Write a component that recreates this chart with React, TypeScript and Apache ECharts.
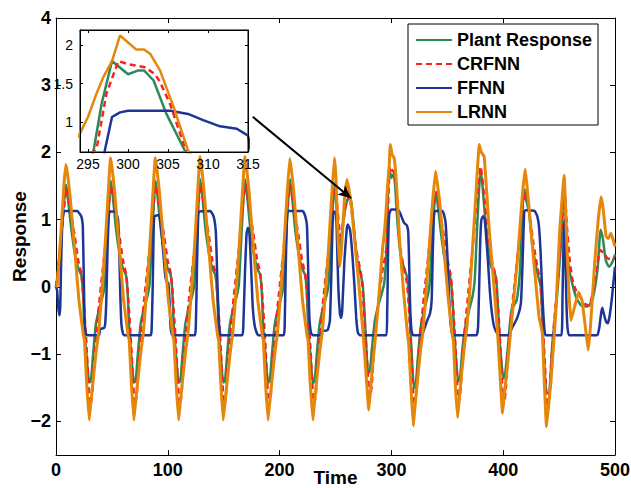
import React, { useEffect, useRef } from "react";
import * as echarts from "echarts";

// ---------- data (time, response) ----------
const plantData: number[][] = [
  [0,0],[2,0.25],[4,0.65],[6,1.05],[8,1.4],[9.1,1.52],
  [10.8,1.29],[13.8,0.85],[16.8,0.5],[19.8,0.28],[22.5,0.18],[24,-0.05],[25.4,-0.6],[27.5,-1.05],[29.7,-1.42],[31.2,-1.4],[33.2,-1.0],[35.7,-0.55],[38.7,-0.32],[41.7,-0.14],[43.7,0.05],[46.7,1.0],[49.1,1.58],
  [50.8,1.35],[53.8,0.85],[56.8,0.5],[59.8,0.28],[62.5,0.18],[64,-0.05],[65.4,-0.6],[67.5,-1.05],[69.7,-1.42],[71.2,-1.4],[73.2,-1.0],[75.7,-0.55],[78.7,-0.32],[81.7,-0.14],[83.7,0.05],[86.7,1.0],[89.1,1.58],
  [90.8,1.35],[93.8,0.85],[96.8,0.5],[99.8,0.28],[102.5,0.18],[104,-0.05],[105.4,-0.6],[107.5,-1.05],[109.7,-1.42],[111.2,-1.4],[113.2,-1.0],[115.7,-0.55],[118.7,-0.32],[121.7,-0.14],[123.7,0.05],[126.7,1.0],[129.1,1.6],
  [130.8,1.37],[133.8,0.85],[136.8,0.5],[139.8,0.28],[142.5,0.18],[144,-0.05],[145.4,-0.6],[147.5,-1.05],[149.6,-1.42],[151.1,-1.4],[153.1,-1.0],[155.6,-0.55],[158.6,-0.32],[161.6,-0.14],[163.6,0.05],[166.6,1.0],[169.2,1.6],
  [170.9,1.37],[173.9,0.85],[176.9,0.5],[179.9,0.28],[182.5,0.18],[184,-0.05],[185.4,-0.6],[187.5,-1.05],[189.7,-1.42],[191.2,-1.4],[193.2,-1.0],[195.7,-0.55],[198.7,-0.32],[201.7,-0.14],[203.7,0.05],[206.7,1.0],[209.3,1.6],
  [211,1.37],[214,0.85],[217,0.5],[220,0.28],[222.7,0.18],[224.2,-0.05],[225.6,-0.6],[227.7,-1.05],[229.8,-1.43],[231.3,-1.4],[233.3,-1.0],[235.8,-0.55],[238.8,-0.32],[241.8,-0.14],[243.8,0.05],[246.8,1.0],[249.3,1.55],
  [250.8,1.2],[252.5,0.75],[254,0.6],[256,0.85],[258.5,1.15],[261,1.3],[263.5,1.32],[265.5,1.05],[267.5,0.7],[269.5,0.4],[271.4,0.27],[274.4,0.02],[276.8,-0.64],[279.2,-1.28],[280.7,-1.26],[282.7,-0.9],[285.2,-0.5],[288.2,-0.28],[291,-0.12],[293.5,0.05],[294.8,0.3],[295.7,0.64],[296.7,1.24],[298,1.79],[300,1.62],[301.3,1.67],[302,1.67],[303.2,1.54],[304.8,1.11],[307.1,0.64],[309.5,0.38],[312,0.25],[314,0.15],[315.5,-0.1],[317,-0.62],[318.5,-1.1],[320.2,-1.5],[321.7,-1.47],[323.7,-1.05],[326.2,-0.6],[329.2,-0.35],[332.2,-0.15],[334.2,0.05],[337.2,0.95],[339.9,1.42],
  [341.5,1.22],[344,0.85],[347.3,0.45],[351.8,0.2],[353.5,0.05],[354.8,-0.24],[356.3,-0.7],[358,-1.1],[359.8,-1.4],[361.3,-1.37],[363.7,-0.89],[366.5,-0.55],[369.6,-0.34],[372.6,-0.14],[374.5,0.1],[377,1.0],[379.8,1.74],
  [381.5,1.5],[384,1.0],[387.5,0.4],[390.5,0.25],[393.5,0.15],[395,-0.2],[396.4,-0.69],[398.3,-1.1],[400.3,-1.36],[401.5,-1.33],[404.5,-0.84],[407.5,-0.34],[412,-0.2],[415,0.24],[417,1.08],[418.8,1.45],
  [420.5,1.3],[423.2,1.1],[426.2,0.6],[430.7,0.2],[433.6,0.0],[435.7,-0.74],[438.7,-1.58],[441,-1.58],[444,-0.84],[447.6,-0.25],[451.5,0.6],[454.5,1.49],
  [457.4,0.45],[460.4,0.15],[464.9,-0.14],[469.3,-0.27],[475.3,-0.29],[479.8,-0.19],[484.3,0.25],[487.2,0.85],[489.3,0.7],[491.7,0.4],[494.6,0.3],[497.6,0.37],[500,0.48],
];

const crfnnData: number[][] = [
  [0,0],[1.5,0.2],[3,0.5],[5,0.8],[7,1.15],[9.8,1.47],
  [12.3,1.2],[16.8,0.75],[19.8,0.4],[22.8,0.18],[24.4,-0.14],[26.8,-0.74],[29.7,-1.6],[31,-1.75],[32.5,-1.55],[34.2,-1.05],[36.7,-0.6],[39.2,-0.15],[43.7,0.55],[47.7,1.29],[49.8,1.5],
  [52.3,1.2],[56.8,0.75],[59.8,0.4],[62.8,0.18],[64.4,-0.14],[66.8,-0.74],[69.6,-1.6],[70.9,-1.75],[72.4,-1.55],[74.1,-1.05],[76.6,-0.6],[79.1,-0.15],[83.6,0.55],[87.6,1.29],[89.8,1.5],
  [92.3,1.2],[96.8,0.75],[99.8,0.4],[102.8,0.18],[104.4,-0.14],[106.8,-0.74],[109.7,-1.6],[111,-1.75],[112.5,-1.55],[114.2,-1.05],[116.7,-0.6],[119.2,-0.15],[123.7,0.55],[127.7,1.29],[129.8,1.52],
  [132.3,1.22],[136.8,0.75],[139.8,0.4],[142.8,0.18],[144.4,-0.14],[146.8,-0.74],[149.5,-1.6],[150.8,-1.75],[152.3,-1.55],[154,-1.05],[156.5,-0.6],[159,-0.15],[163.5,0.55],[167.5,1.29],[169.9,1.52],
  [172.4,1.22],[176.9,0.75],[179.9,0.4],[182.9,0.18],[184.5,-0.14],[186.9,-0.74],[189.6,-1.6],[190.9,-1.75],[192.4,-1.55],[194.1,-1.05],[196.6,-0.6],[199.1,-0.15],[203.6,0.55],[207.6,1.29],[210,1.5],
  [212.5,1.2],[217,0.75],[220,0.4],[223,0.18],[224.6,-0.14],[227,-0.74],[229.8,-1.6],[231.1,-1.73],[232.6,-1.55],[234.3,-1.05],[236.8,-0.6],[239.3,-0.15],[243.8,0.55],[247.8,1.29],[250,1.45],
  [252,1.1],[254.5,0.75],[256.5,0.9],[259,1.2],[262,1.35],[264,1.2],[266,0.9],[268.5,0.55],[271,0.35],[273.5,0.12],[275.3,-0.3],[277.5,-0.9],[279.8,-1.5],[281,-1.63],[282.5,-1.45],[284.2,-0.95],[286.7,-0.5],[289.2,-0.1],[292.5,0.3],[294.5,0.45],[296.1,0.68],[297.3,1.37],[298.8,1.79],[300,1.75],[302.1,1.71],[303.4,1.62],[304,1.52],[305.25,1.24],[307.1,0.68],[309.5,0.42],[312,0.22],[314,0.05],[315.6,-0.3],[317.5,-0.9],[319.6,-1.6],[320.9,-1.76],[322.4,-1.55],[324.1,-1.05],[326.6,-0.6],[329.1,-0.15],[333.6,0.55],[337.6,1.25],[340.5,1.4],
  [343,1.15],[347.5,0.7],[350.5,0.38],[353.2,0.15],[354.8,-0.2],[357,-0.8],[359.2,-1.55],[360.5,-1.7],[362,-1.5],[363.7,-1.0],[366.2,-0.55],[368.7,-0.1],[372.7,0.6],[376.7,1.35],[379.8,1.79],
  [382.3,1.45],[386,0.85],[389.5,0.4],[393,0.18],[394.6,-0.14],[397,-0.74],[399.4,-1.55],[400.7,-1.73],[402.2,-1.55],[403.9,-1.05],[406.4,-0.6],[408.9,-0.15],[413.4,0.55],[417.4,1.2],[420.5,1.44],
  [423,1.15],[427,0.65],[430.5,0.3],[433,0.1],[434.6,-0.3],[436.5,-0.9],[438.7,-1.6],[440,-1.88],[441.5,-1.6],[443.2,-1.05],[445.7,-0.5],[448.5,0.05],[451.5,0.7],[455,1.4],
  [457,0.9],[459.5,0.4],[462,0.1],[465,-0.05],[469,-0.15],[473,-0.25],[476.5,-0.28],[480,-0.1],[483.5,0.25],[487,0.55],[490,0.5],[494,0.42],[500,0.42],
];

const ffnnData: number[][] = [
  [0,0],[1,-0.05],[2,-0.3],[3,-0.42],[3.8,-0.3],[4.5,0.3],[5.5,0.9],[6.5,1.1],[8,1.13],[19,1.13],[21.5,1.08],[23,1.03],[24,0.9],[24.8,0.2],[25.6,-0.5],[26.5,-0.68],[28,-0.72],[38.5,-0.72],[39.5,-0.63],[43,-0.61],[44,-0.55],[45,-0.2],[46,0.5],[47,1.0],[48,1.12],[53,1.12],[55.5,1.0],[56.5,0.6],[57.5,-0.1],[58.5,-0.55],[60,-0.7],[61.5,-0.72],
  [84.5,-0.72],[85.5,-0.65],[86.5,0.0],[87.3,0.8],[88,1.05],[92,1.07],[94,0.9],[96,0.5],[97.5,0.2],[98.5,0.1],[100.5,0.05],[101.5,-0.2],[102.5,-0.6],[104,-0.72],
  [124,-0.72],[125,-0.62],[126,0.2],[127,0.95],[128,1.12],[138,1.13],[141,1.05],[143,0.8],[144.5,0.0],[146,-0.6],[147.5,-0.72],
  [166.5,-0.72],[167.5,-0.6],[169,0.2],[170.5,0.8],[171.7,0.88],[173,0.8],[174.5,0.3],[176,-0.3],[178,-0.6],[181,-0.72],
  [203.5,-0.72],[204.5,-0.6],[205.5,0.3],[206.5,1.0],[207.5,1.13],[220.5,1.13],[223,1.05],[224.5,0.9],[225.5,0.3],[226.5,-0.4],[228,-0.68],[230,-0.72],[237,-0.72],[238,-0.66],[243,-0.64],[245,-0.5],[246.3,0.2],[247.3,0.9],[248.5,1.12],[250.5,1.1],[251.5,0.6],[252.5,0.0],[254,-0.4],[255,-0.46],[256,-0.35],[258,0.4],[260,0.85],[261,0.93],[263,0.85],[265,0.5],[267,0.0],[268.5,-0.45],[270,-0.68],[272,-0.72],
  [295.5,-0.72],[296.2,-0.4],[296.7,0.1],[297.1,0.64],[298,1.07],[299,1.13],[300,1.15],[305.3,1.15],[307.5,1.11],[309.4,1.03],[311.5,0.95],[313.6,0.92],[315,0.83],[315.8,0.4],[316.8,-0.3],[318,-0.65],[319.5,-0.72],
  [327,-0.72],[329.5,-0.62],[332,-0.5],[334.5,-0.4],[336,-0.2],[337,0.5],[338,1.05],[339,1.13],[345.5,1.13],[347,1.08],[348.5,0.95],[350,0.5],[351.5,-0.1],[353,-0.55],[355,-0.72],
  [376,-0.72],[377.5,-0.6],[378.5,0.0],[379.5,0.7],[380.5,1.0],[382,1.05],[383.5,1.0],[385,0.7],[386.5,0.35],[388,-0.05],[390,-0.4],[392,-0.6],[395,-0.7],[397,-0.72],
  [404,-0.72],[408.3,-0.6],[412.8,-0.45],[415.8,-0.25],[417.3,0.35],[418.8,1.12],[420,1.14],[428,1.13],[430.5,1.05],[432,0.9],[433.5,0.5],[435,-0.1],[436.5,-0.55],[438,-0.72],
  [452,-0.72],[453,-0.2],[454,0.7],[454.7,1.0],[455.5,0.6],[456.5,-0.2],[457.5,-0.6],[459,-0.72],
  [484,-0.72],[486,-0.6],[487.5,-0.4],[488.6,-0.31],[490,-0.4],[492,-0.52],[493.5,-0.54],[495,-0.45],[497,-0.2],[498.5,0.05],[500,0.3],
];

const lrnnData: number[][] = [
  [0,0],[1,0.02],[3,0.45],[5,0.95],[7,1.5],[8.8,1.82],
  [10.3,1.68],[12.3,1.4],[16.5,0.6],[20.5,-0.2],[24.5,-0.72],[25.5,-0.8],[27.3,-1.4],[29.7,-1.98],
  [31,-1.75],[33,-1.42],[36,-0.95],[38,-0.7],[40,-0.3],[43.5,0.5],[46,1.2],[48.8,1.92],
  [50.3,1.75],[52.3,1.45],[56.5,0.6],[60.5,-0.2],[64.5,-0.72],[65.5,-0.8],[67.3,-1.4],[69.6,-1.98],
  [71,-1.75],[73,-1.42],[76,-0.95],[78,-0.7],[80,-0.3],[83.5,0.5],[86,1.2],[88.8,1.92],
  [90.3,1.75],[92.3,1.45],[96.5,0.6],[100.5,-0.2],[104.5,-0.72],[105.5,-0.8],[107.3,-1.4],[109.7,-1.98],
  [111,-1.75],[113,-1.42],[116,-0.95],[118,-0.7],[120,-0.3],[123.5,0.5],[126,1.2],[128.8,1.94],
  [130.3,1.77],[132.3,1.45],[136.5,0.6],[140.5,-0.2],[144.5,-0.72],[145.5,-0.8],[147.3,-1.4],[149.5,-1.98],
  [151,-1.75],[153,-1.42],[156,-0.95],[158,-0.7],[160,-0.3],[163.5,0.5],[166,1.2],[169,1.94],
  [170.5,1.77],[172.5,1.45],[176.5,0.6],[180.5,-0.2],[184.5,-0.72],[185.5,-0.8],[187.3,-1.4],[189.6,-1.98],
  [191,-1.75],[193,-1.42],[196,-0.95],[198,-0.7],[200,-0.3],[203.5,0.5],[206,1.2],[209,1.91],
  [210.5,1.75],[212.5,1.45],[216.5,0.6],[220.5,-0.2],[224.5,-0.72],[225.5,-0.8],[227.3,-1.4],[229.8,-1.98],
  [231,-1.75],[233,-1.42],[236,-0.95],[238,-0.7],[240,-0.3],[243.5,0.5],[246,1.2],[249,1.92],
  [250.5,1.6],[252.3,0.7],[253.8,0.3],[255.5,0.6],[258,1.3],[260.3,1.6],[262,1.45],[264,1.25],[268.5,0.45],[271.4,-0.05],[274.4,-0.64],[276.5,-1.1],[279.8,-1.83],
  [281,-1.6],[283,-1.2],[286,-0.7],[289,-0.1],[292,0.55],[294,0.86],[295,1.07],[296.1,1.38],[296.9,1.58],[298,1.79],[299,2.12],[301,1.94],[302,1.94],[302.8,1.88],[304,1.67],[305.7,1.2],[307.5,0.64],[311,-0.1],[314.5,-0.72],[315.5,-0.85],[317.5,-1.5],[319.6,-2.07],
  [321,-1.8],[323,-1.45],[326,-0.95],[328,-0.7],[330,-0.3],[333.5,0.5],[336.5,1.2],[339.5,1.72],
  [341,1.55],[343,1.3],[347,0.55],[351,-0.2],[354.5,-0.72],[355.5,-0.8],[357,-1.4],[359.2,-1.94],
  [360.5,-1.7],[362.5,-1.35],[365.5,-0.85],[367.5,-0.6],[369.5,-0.2],[372.5,0.55],[375.5,1.35],[378.6,2.12],
  [380.5,2.0],[383,1.94],[387.5,0.85],[392,-0.04],[395,-0.69],[397,-1.25],[399.4,-1.88],
  [401,-1.6],[404,-1.14],[408.5,-0.34],[413,0.45],[417,1.34],[419.6,1.75],
  [421,1.55],[423,1.2],[427.5,0.35],[432,-0.44],[435,-0.69],[436.5,-1.3],[438.7,-2.08],
  [440,-1.85],[442.6,-1.43],[447,-0.39],[450.6,0.85],[454.5,1.66],
  [456.8,0.7],[458.5,0.0],[460.5,-0.5],[463,-0.35],[467.5,-0.08],[470.5,-0.2],[473.5,-0.6],[476,-0.94],
  [478,-0.6],[481.8,0.35],[485,1.0],[487.5,1.34],[489.5,1.15],[492,0.75],[494,0.72],[496.4,0.8],[498,0.72],[500,0.6],
];

const seriesNames = ["Plant Response", "CRFNN", "FFNN", "LRNN"];
const mainXTicks = [0, 100, 200, 300, 400, 500];
const mainYTicks = [-2, -1, 0, 1, 2, 3, 4];
const mainYTickMarks = [-2, -1, 0, 1, 2, 3];
const insetXTicks = [295, 300, 305, 310, 315];
const insetYTicks = [1, 1.5, 2];
const mainXRange = [0, 500];
const mainYRange = [-2.5, 4];
const insetXRange = [294, 315];
const insetYRange = [0.62, 2.19];
const arrowFrom = [176, 2.53];
const arrowTo = [264, 1.32];

const COLORS = ["#2b8a57", "#ff1f1f", "#1c3596", "#e5870b"];
const SMOOTH = [0.2, 0.2, 0.15, 0.1];
const FONT = "'Liberation Sans', Arial, Helvetica, sans-serif";

const minus = (v: number) => String(v).replace("-", "\u2212");

export default function App() {
  const ref = useRef<HTMLDivElement>(null);
  useEffect(() => {
    if (!ref.current) return;
    const chart = echarts.init(ref.current, undefined, { renderer: "svg" });
    const datasets = [plantData, crfnnData, ffnnData, lrnnData];
    const styleFor = (i: number) => ({
      color: COLORS[i],
      width: i === 3 ? 3 : 2.5,
      type: i === 1 ? [6, 4] : "solid",
    });
    const mainSeries = datasets.map((d, i) => ({
      name: seriesNames[i],
      type: "line",
      xAxisIndex: 0,
      yAxisIndex: 0,
      data: d,
      symbol: "none",
      showSymbol: false,
      smooth: SMOOTH[i],
      z: 2 + i * 0.01,
      lineStyle: styleFor(i),
      itemStyle: { color: COLORS[i] },
      markLine:
        i === 3
          ? {
              silent: true,
              symbol: ["none", "arrow"],
              symbolSize: [9, 13],
              label: { show: false },
              lineStyle: { color: "#000", width: 2, type: "solid" },
              itemStyle: { color: "#000" },
              data: [[{ coord: arrowFrom }, { coord: arrowTo }]],
            }
          : undefined,
    }));
    const insetSeries = datasets.map((d, i) => ({
      name: seriesNames[i],
      type: "line",
      xAxisIndex: 1,
      yAxisIndex: 1,
      data: d,
      symbol: "none",
      showSymbol: false,
      clip: true,
      z: 11 + i * 0.01,
      lineStyle: { ...styleFor(i), width: 2.5 },
      itemStyle: { color: COLORS[i] },
    }));
    const tickLabelMain = { fontFamily: FONT, fontWeight: "bold", fontSize: 18, color: "#000" };
    const tickLabelInset = { fontFamily: FONT, fontSize: 14, color: "#000" };
    chart.setOption({
      animation: false,
      backgroundColor: "#fff",
      grid: [
        { left: 56, top: 18, width: 559, height: 437, show: false, containLabel: false, outerBoundsMode: "none" },
        {
          left: 80, top: 30, width: 168, height: 122, show: true, z: 10, outerBoundsMode: "none",
          backgroundColor: "#fff", borderColor: "#000", borderWidth: 1,
        },
      ],
      legend: {
        data: seriesNames,
        orient: "vertical",
        left: 408,
        top: 24,
        z: 20,
        selectedMode: false,
        backgroundColor: "#fff",
        borderColor: "#000",
        borderWidth: 1,
        borderRadius: 0,
        padding: [7, 6, 4, 7],
        itemWidth: 36,
        itemHeight: 14,
        itemGap: 6,
        itemStyle: { opacity: 0 },
        textStyle: { fontFamily: FONT, fontWeight: "bold", fontSize: 18, color: "#000" },
      },
      xAxis: [
        {
          type: "value", gridIndex: 0, min: mainXRange[0], max: mainXRange[1],
          name: "Time", nameLocation: "middle", nameGap: 13, nameMoveOverlap: false,
          nameTextStyle: { fontFamily: FONT, fontWeight: "bold", fontSize: 19, color: "#000", verticalAlign: "top" },
          axisLine: { show: true, onZero: false, lineStyle: { color: "#000", width: 1 } },
          axisTick: { show: true, inside: true, length: 5, customValues: mainXTicks, lineStyle: { color: "#000" } },
          axisLabel: { ...tickLabelMain, margin: 6, customValues: mainXTicks },
          splitLine: { show: false },
        },
        {
          type: "value", gridIndex: 1, min: insetXRange[0], max: insetXRange[1], z: 12,
          axisLine: { show: true, onZero: false, lineStyle: { color: "#000", width: 1 } },
          axisTick: { show: true, inside: true, length: 3, customValues: insetXTicks, lineStyle: { color: "#000" } },
          axisLabel: { ...tickLabelInset, margin: 5, customValues: insetXTicks },
          splitLine: { show: false },
        },
        {
          type: "value", gridIndex: 0, position: "top", min: mainXRange[0], max: mainXRange[1],
          axisLine: { show: true, onZero: false, lineStyle: { color: "#000", width: 1 } },
          axisTick: { show: true, inside: true, length: 5, customValues: mainXTicks, lineStyle: { color: "#000" } },
          axisLabel: { show: false },
          splitLine: { show: false },
        },
        {
          type: "value", gridIndex: 1, position: "top", min: insetXRange[0], max: insetXRange[1], z: 12,
          axisLine: { show: true, onZero: false, lineStyle: { color: "#000", width: 1 } },
          axisTick: { show: true, inside: true, length: 3, customValues: insetXTicks, lineStyle: { color: "#000" } },
          axisLabel: { show: false },
          splitLine: { show: false },
        },
      ],
      yAxis: [
        {
          type: "value", gridIndex: 0, min: mainYRange[0], max: mainYRange[1],
          name: "Response", nameLocation: "middle", nameGap: 27, nameMoveOverlap: false,
          nameTextStyle: { fontFamily: FONT, fontWeight: "bold", fontSize: 19, color: "#000" },
          axisLine: { show: true, onZero: false, lineStyle: { color: "#000", width: 1 } },
          axisTick: { show: true, inside: true, length: 5, customValues: mainYTickMarks, lineStyle: { color: "#000" } },
          axisLabel: { ...tickLabelMain, margin: 5, customValues: mainYTicks, formatter: minus },
          splitLine: { show: false },
        },
        {
          type: "value", gridIndex: 1, min: insetYRange[0], max: insetYRange[1], z: 12,
          axisLine: { show: true, onZero: false, lineStyle: { color: "#000", width: 1 } },
          axisTick: { show: true, inside: true, length: 3, customValues: insetYTicks, lineStyle: { color: "#000" } },
          axisLabel: { ...tickLabelInset, margin: 7, customValues: insetYTicks },
          splitLine: { show: false },
        },
        {
          type: "value", gridIndex: 0, position: "right", min: mainYRange[0], max: mainYRange[1],
          axisLine: { show: true, onZero: false, lineStyle: { color: "#000", width: 1 } },
          axisTick: { show: true, inside: true, length: 5, customValues: mainYTickMarks, lineStyle: { color: "#000" } },
          axisLabel: { show: false },
          splitLine: { show: false },
        },
        {
          type: "value", gridIndex: 1, position: "right", min: insetYRange[0], max: insetYRange[1], z: 12,
          axisLine: { show: true, onZero: false, lineStyle: { color: "#000", width: 1 } },
          axisTick: { show: true, inside: true, length: 3, customValues: insetYTicks, lineStyle: { color: "#000" } },
          axisLabel: { show: false },
          splitLine: { show: false },
        },
      ],
      series: [...mainSeries, ...insetSeries],
    });
    return () => chart.dispose();
  }, []);
  return (
    <div
      ref={ref}
      style={{ position: "fixed", left: 0, top: 0, width: 631, height: 488, background: "#fff" }}
    />
  );
}
